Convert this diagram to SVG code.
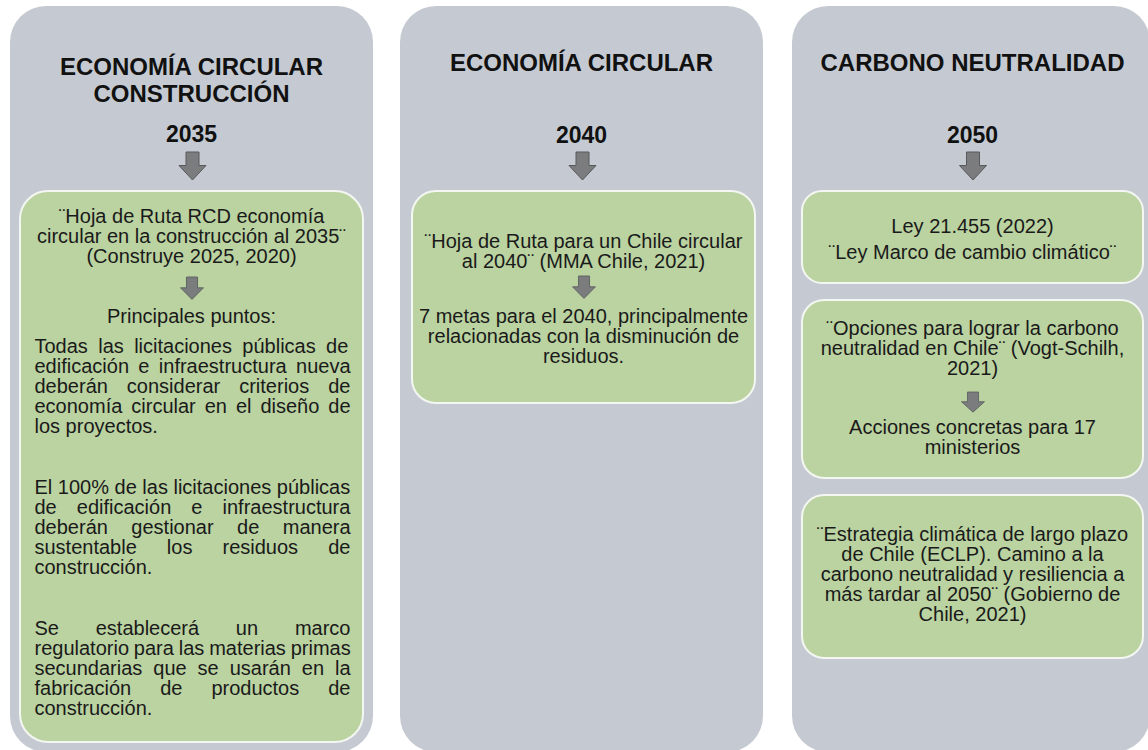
<svg xmlns="http://www.w3.org/2000/svg" xmlns:xlink="http://www.w3.org/1999/xlink" width="1148" height="750" viewBox="0 0 1148 750">
  <style>
    .panel { fill: #c5cad2; }
    .box { fill: #bad3a1; stroke: #f4f6f1; stroke-width: 2; }
    .title { font-family: "Liberation Sans", Arial, sans-serif; font-weight: bold; font-size: 24px; fill: #111; text-anchor: middle; }
    .year { font-family: "Liberation Sans", Arial, sans-serif; font-weight: bold; font-size: 23px; fill: #111; text-anchor: middle; }
    .c { font-family: "Liberation Sans", Arial, sans-serif; font-size: 20px; fill: #1a1a1a; text-anchor: middle; }
    .j { font-family: "Liberation Sans", Arial, sans-serif; font-size: 20px; fill: #1a1a1a; text-anchor: start; }
    .arrow { fill: #7b7c7e; stroke: #58595b; stroke-width: 1; }
  </style>
  <defs>
    <path id="arr" class="arrow" d="M-6.5,0 H6.5 V13.5 H13.5 L0,28 L-13.5,13.5 H-6.5 Z"/>
  </defs>
  <rect width="1148" height="750" fill="#ffffff"/>

  <g id="col-2035">
    <rect class="panel" x="10" y="6" width="363" height="746" rx="36"/>
    <text class="title" x="191.5" y="75">ECONOMÍA CIRCULAR</text>
    <text class="title" x="191.5" y="102">CONSTRUCCIÓN</text>
    <text class="year" x="191.5" y="142">2035</text>
  </g>
  <g id="box-2035">
    <rect class="box" x="20" y="191" width="343" height="551" rx="28"/>
    <text class="c" x="191.5" y="223">¨Hoja de Ruta RCD economía</text>
    <text class="c" x="191.5" y="243">circular en la construcción al 2035¨</text>
    <text class="c" x="191.5" y="263">(Construye 2025, 2020)</text>
    <text class="c" x="191.5" y="323">Principales puntos:</text>
    <text class="j" x="34.5" y="353" word-spacing="4.8">Todas las licitaciones públicas de</text>
    <text class="j" x="34.5" y="373" word-spacing="3.8">edificación e infraestructura nueva</text>
    <text class="j" x="34.5" y="393" word-spacing="13.4">deberán considerar criterios de</text>
    <text class="j" x="34.5" y="413" word-spacing="3.4">economía circular en el diseño de</text>
    <text class="j" x="34.5" y="433">los proyectos.</text>
    <text class="j" x="34.5" y="494">El 100% de las licitaciones públicas</text>
    <text class="j" x="34.5" y="514" word-spacing="14.5">de edificación e infraestructura</text>
    <text class="j" x="34.5" y="534" word-spacing="17.9">deberán gestionar de manera</text>
    <text class="j" x="34.5" y="554" word-spacing="24.5">sustentable los residuos de</text>
    <text class="j" x="34.5" y="574">construcción.</text>
    <text class="j" x="34.5" y="635" word-spacing="31.2">Se establecerá un marco</text>
    <text class="j" x="34.5" y="655" word-spacing="-0.7">regulatorio para las materias primas</text>
    <text class="j" x="34.5" y="675" word-spacing="5.4">secundarias que se usarán en la</text>
    <text class="j" x="34.5" y="695" word-spacing="23.4">fabricación de productos de</text>
    <text class="j" x="34.5" y="715">construcción.</text>
  </g>

  <g id="col-2040">
    <rect class="panel" x="400" y="6" width="363" height="746" rx="36"/>
    <text class="title" x="581.5" y="71">ECONOMÍA CIRCULAR</text>
    <text class="year" x="581.5" y="143">2040</text>
  </g>
  <g id="box-2040">
    <rect class="box" x="412" y="191" width="343" height="212" rx="24"/>
    <text class="c" x="583.5" y="248">¨Hoja de Ruta para un Chile circular</text>
    <text class="c" x="583.5" y="268">al 2040¨ (MMA Chile, 2021)</text>
    <text class="c" x="583.5" y="323">7 metas para el 2040, principalmente</text>
    <text class="c" x="583.5" y="343">relacionadas con la disminución de</text>
    <text class="c" x="583.5" y="363">residuos.</text>
  </g>

  <g id="col-2050">
    <rect class="panel" x="792" y="6" width="358" height="746" rx="36"/>
    <text class="title" x="972.5" y="71">CARBONO NEUTRALIDAD</text>
    <text class="year" x="972.5" y="143">2050</text>
  </g>
  <g id="box-ley">
    <rect class="box" x="802" y="191" width="341" height="92" rx="20"/>
    <text class="c" x="972.5" y="233">Ley 21.455 (2022)</text>
    <text class="c" x="972.5" y="259">¨Ley Marco de cambio climático¨</text>
  </g>
  <g id="box-opciones">
    <rect class="box" x="802" y="300" width="341" height="178" rx="22"/>
    <text class="c" x="972.5" y="335">¨Opciones para lograr la carbono</text>
    <text class="c" x="972.5" y="355">neutralidad en Chile¨ (Vogt-Schilh,</text>
    <text class="c" x="972.5" y="375">2021)</text>
    <text class="c" x="972.5" y="434">Acciones concretas para 17</text>
    <text class="c" x="972.5" y="454">ministerios</text>
  </g>
  <g id="box-eclp">
    <rect class="box" x="802" y="495" width="341" height="163" rx="22"/>
    <text class="c" x="972.5" y="541">¨Estrategia climática de largo plazo</text>
    <text class="c" x="972.5" y="561">de Chile (ECLP). Camino a la</text>
    <text class="c" x="972.5" y="581">carbono neutralidad y resiliencia a</text>
    <text class="c" x="972.5" y="601">más tardar al 2050¨ (Gobierno de</text>
    <text class="c" x="972.5" y="621">Chile, 2021)</text>
  </g>

  <g id="connectors">
    <use xlink:href="#arr" href="#arr" transform="translate(192.5,152)"/>
    <use xlink:href="#arr" href="#arr" transform="translate(582.5,152)"/>
    <use xlink:href="#arr" href="#arr" transform="translate(973,152)"/>
    <use xlink:href="#arr" href="#arr" transform="translate(192,277) scale(0.85,0.8)"/>
    <use xlink:href="#arr" href="#arr" transform="translate(584,276) scale(0.85,0.8)"/>
    <use xlink:href="#arr" href="#arr" transform="translate(973,392) scale(0.85,0.72)"/>
  </g>
</svg>
